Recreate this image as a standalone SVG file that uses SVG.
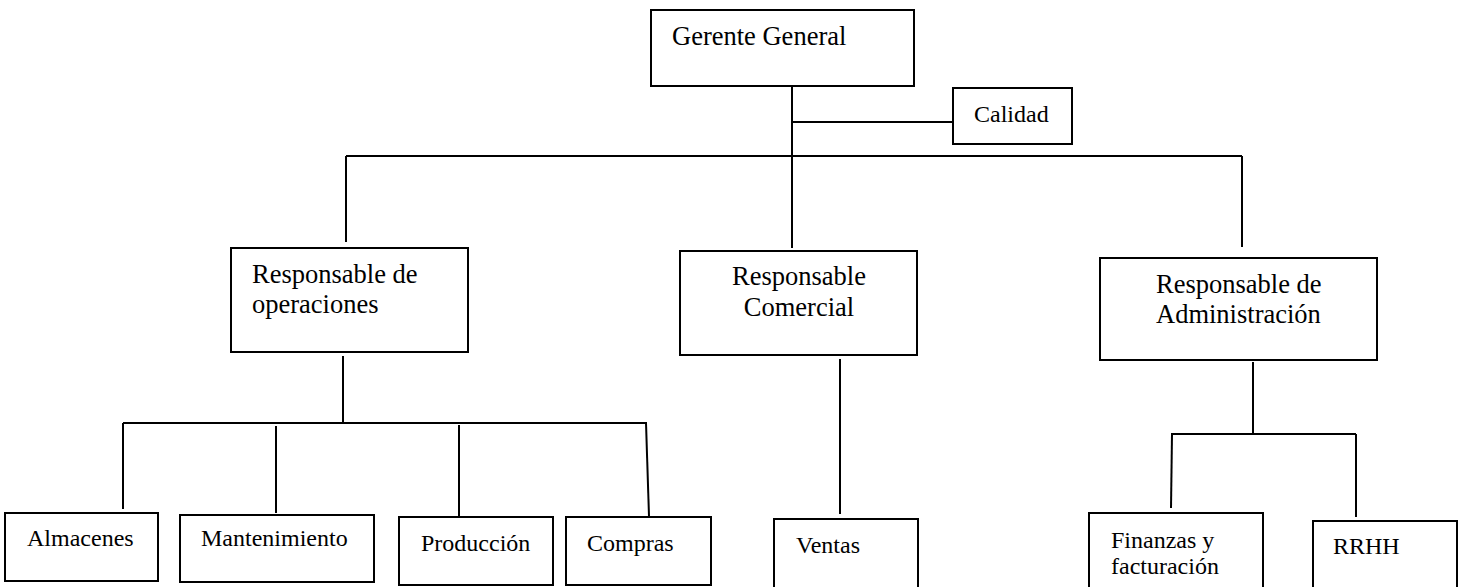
<svg xmlns="http://www.w3.org/2000/svg" width="1464" height="587" viewBox="0 0 1464 587">
<style>
.box{fill:#fff;stroke:#000;stroke-width:2}
.ln{stroke:#000;stroke-width:2;fill:none}
.t{font-family:"Liberation Serif","Times New Roman",serif;fill:#000}
.big{font-size:26.5px}
.sm{font-size:24px}
</style>
<rect width="1464" height="587" fill="#fff"/>
<g id="connectors">
<line class="ln" x1="792" y1="87" x2="792" y2="248"/>
<line class="ln" x1="792" y1="122" x2="953" y2="122"/>
<line class="ln" x1="346" y1="156" x2="1242" y2="156"/>
<line class="ln" x1="346" y1="156" x2="346" y2="242"/>
<line class="ln" x1="1242" y1="156" x2="1242" y2="247"/>
<line class="ln" x1="343" y1="356" x2="343" y2="423"/>
<line class="ln" x1="123" y1="423" x2="647" y2="423"/>
<line class="ln" x1="123" y1="423" x2="123" y2="509"/>
<line class="ln" x1="276" y1="426" x2="276" y2="513"/>
<line class="ln" x1="459" y1="425" x2="459" y2="516"/>
<line class="ln" x1="646" y1="423" x2="649" y2="516"/>
<line class="ln" x1="840" y1="359" x2="840" y2="514"/>
<line class="ln" x1="1253" y1="362" x2="1253" y2="434"/>
<line class="ln" x1="1171" y1="434" x2="1356" y2="434"/>
<line class="ln" x1="1172" y1="434" x2="1171" y2="508"/>
<line class="ln" x1="1356" y1="434" x2="1356" y2="517"/>
</g>
<g id="gerente">
<rect class="box" x="651" y="10" width="263" height="76"/>
<text class="t big" x="672" y="45">Gerente General</text>
</g>
<g id="calidad">
<rect class="box" x="953" y="88" width="119" height="56"/>
<text class="t sm" x="974" y="122">Calidad</text>
</g>
<g id="resp-operaciones">
<rect class="box" x="231" y="248" width="237" height="104"/>
<text class="t big" x="252" y="283">Responsable de</text>
<text class="t big" x="252" y="313">operaciones</text>
</g>
<g id="resp-comercial">
<rect class="box" x="680" y="251" width="237" height="104"/>
<text class="t big" x="799" y="285" text-anchor="middle">Responsable</text>
<text class="t big" x="799" y="316" text-anchor="middle">Comercial</text>
</g>
<g id="resp-administracion">
<rect class="box" x="1100" y="258" width="277" height="102"/>
<text class="t big" x="1156" y="293">Responsable de</text>
<text class="t big" x="1156" y="323">Administración</text>
</g>
<g id="almacenes">
<rect class="box" x="5" y="513" width="153" height="68"/>
<text class="t sm" x="27" y="546">Almacenes</text>
</g>
<g id="mantenimiento">
<rect class="box" x="180" y="515" width="194" height="67"/>
<text class="t sm" x="201" y="546">Mantenimiento</text>
</g>
<g id="produccion">
<rect class="box" x="399" y="517" width="154" height="68"/>
<text class="t sm" x="421" y="551">Producción</text>
</g>
<g id="compras">
<rect class="box" x="566" y="517" width="145" height="68"/>
<text class="t sm" x="587" y="551">Compras</text>
</g>
<g id="ventas">
<rect class="box" x="774" y="519" width="144" height="72"/>
<text class="t sm" x="796" y="553">Ventas</text>
</g>
<g id="finanzas">
<rect class="box" x="1089" y="513" width="174" height="80"/>
<text class="t sm" x="1111" y="548">Finanzas y</text>
<text class="t sm" x="1111" y="574">facturación</text>
</g>
<g id="rrhh">
<rect class="box" x="1313" y="521" width="144" height="72"/>
<text class="t sm" x="1333" y="554">RRHH</text>
</g>
</svg>
